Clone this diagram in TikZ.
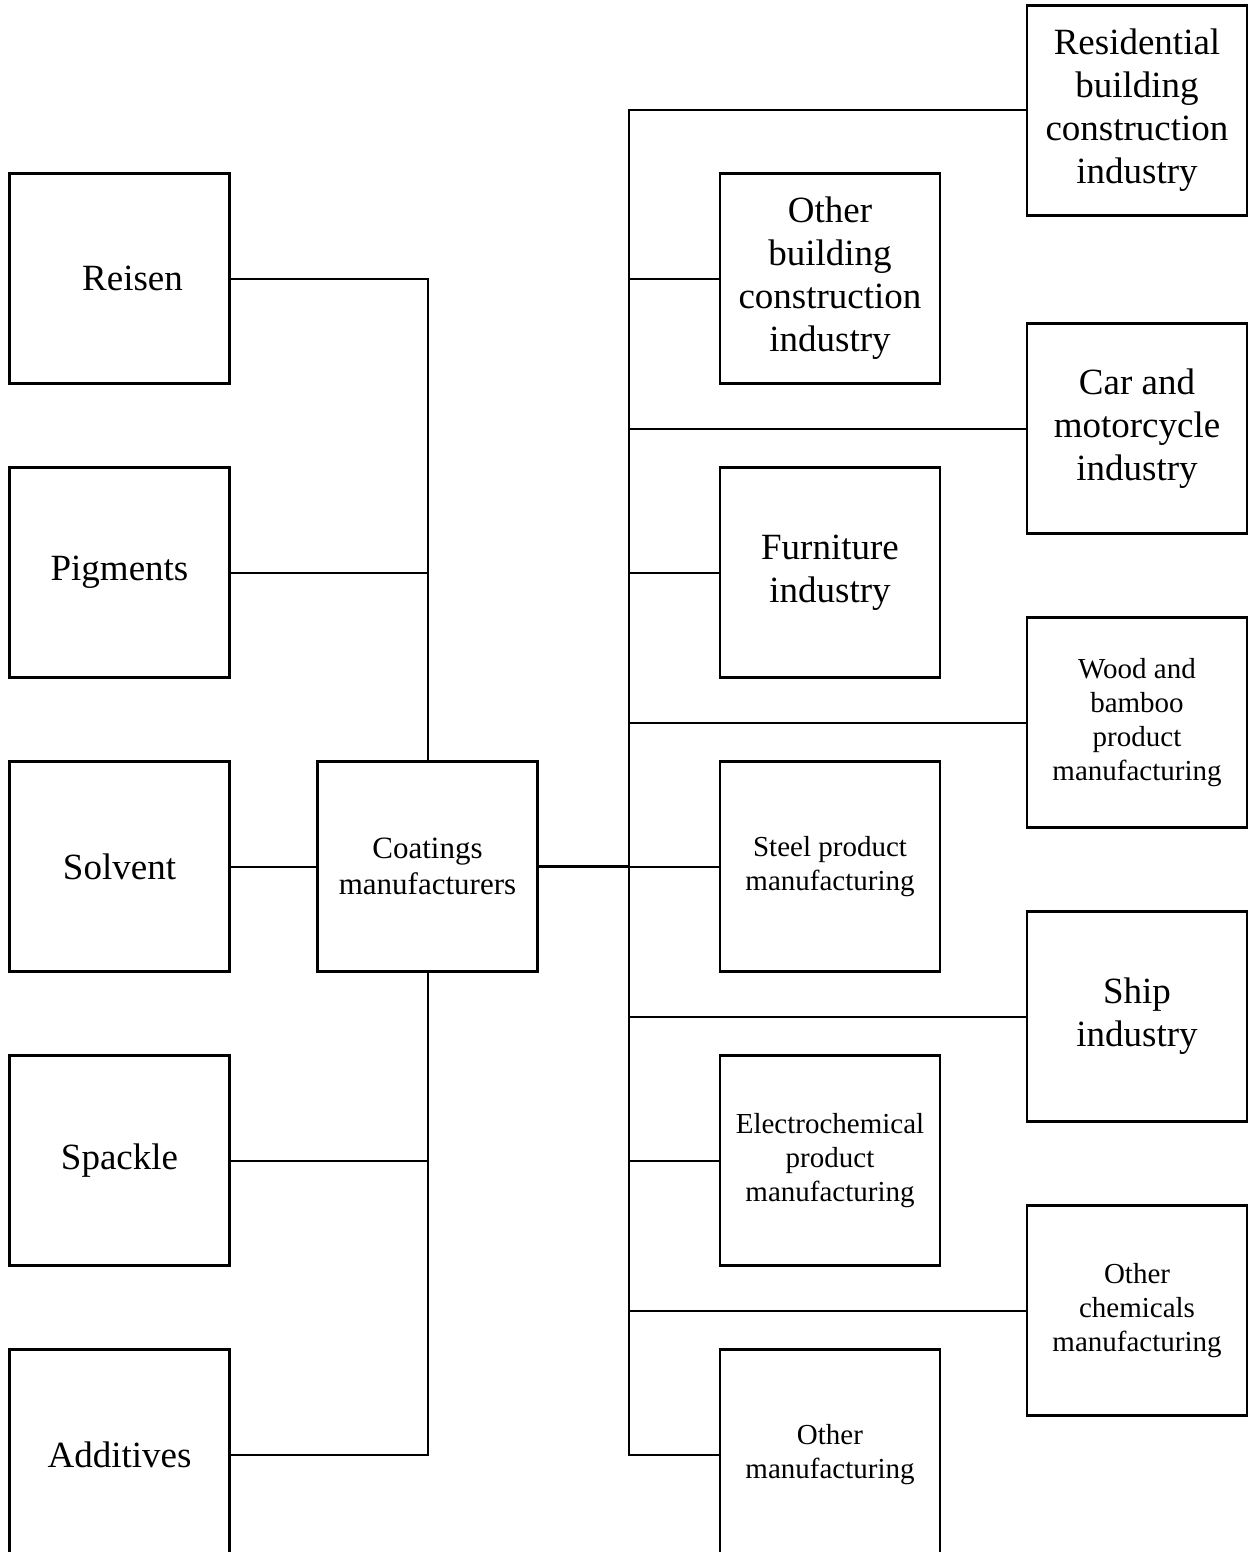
\documentclass[tikz,border=0pt]{standalone}
\usepackage{fontspec}
\setmainfont{Liberation Serif}
\usetikzlibrary{positioning}

\begin{document}
\begin{tikzpicture}[x=0.5pt, y=-0.5pt, node distance=42pt,
  box/.style={draw, line width=1.2pt, minimum width=110pt, minimum height=105pt, inner sep=0pt, outer sep=0pt, align=center},
  big/.style={box, font=\fontsize{18.5}{21.5}\selectfont},
  small/.style={box, font=\fontsize{14.5}{17}\selectfont},
  link/.style={line width=1pt}]
  \useasboundingbox (0,0) rectangle (1248,1552);
  % raw materials
  \node[big] (reisen) at (119.5,278.5) {\hspace*{13pt}Reisen};
  \node[big, below=of reisen] (pigm) {Pigments};
  \node[big, below=of pigm] (solv) {Solvent};
  \node[big, below=of solv] (spack) {Spackle};
  \node[big, below=of spack] (addit) {Additives};
  \node[small, right=44pt of solv, font=\fontsize{15.5}{18}\selectfont] (coat) {Coatings\\manufacturers};
  % users, inner column
  \node[big] (othbld) at (830,278.5) {Other\\building\\construction\\industry};
  \node[big, below=of othbld] (furn) {Furniture\\industry};
  \node[small, below=of furn] (steel) {Steel product\\manufacturing};
  \node[small, below=of steel] (elec) {Electrochemical\\product\\manufacturing};
  \node[small, below=of elec] (othman) {Other\\manufacturing};
  % users, outer column
  \node[big] (resid) at (1137,110.5) {Residential\\building\\construction\\industry};
  \node[big] (car) at (1137,428.5) {Car and\\motorcycle\\industry};
  \node[small, below=of car] (wood) {Wood and\\bamboo\\product\\manufacturing};
  \node[big, below=of wood] (ship) {Ship\\industry};
  \node[small, below=of ship] (othchem) {Other\\chemicals\\manufacturing};
  \coordinate[right=45.5pt of coat.east] (jn);
  \draw[link] (reisen.east) -| (coat.north);
  \draw[link] (pigm.east) -| (coat.north);
  \draw[link] (solv) -- (coat);
  \draw[link] (spack.east) -| (coat.south);
  \draw[link] (addit.east) -| (coat.south);
  \draw[line width=1.5pt] (coat) -- (jn);
  \foreach \n in {othbld,furn,steel,elec,othman,resid,car,wood,ship,othchem}
    \draw[link] (jn) |- (\n.west);
\end{tikzpicture}
\end{document}
